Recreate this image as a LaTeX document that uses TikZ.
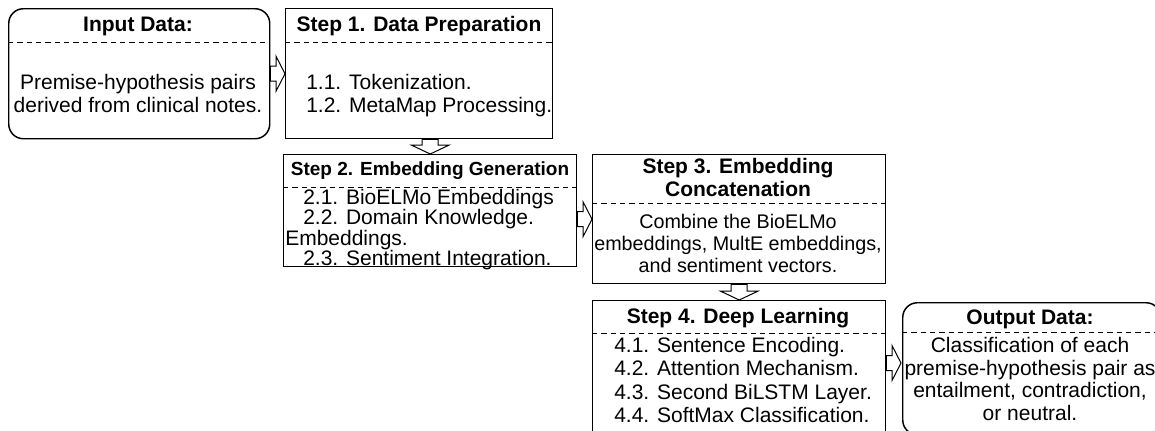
\documentclass[tikz,border=0pt]{standalone}
\usepackage{fontspec}
\setmainfont{Liberation Sans}
\usetikzlibrary{calc}

\tikzset{
  box/.style={draw, line width=1.1pt, anchor=north west, inner sep=0pt},
  roundbox/.style={box, rounded corners=11pt},
  head/.style={font=\fontsize{15.75}{17.25}\selectfont\bfseries, inner sep=0pt, align=center},
  body/.style={font=\fontsize{15.75}{17.25}\selectfont, inner sep=0pt},
  sep/.style={line width=0.75pt, dash pattern=on 4pt off 3pt},
  fatright/.style={draw, line width=0.75pt, fill=white, to path={
    ($(\tikztostart)+(0,-7.5)$) -- ($(\tikztotarget)+(-9,-7.5)$) -- ($(\tikztotarget)+(-9,-17.5)$)
    -- (\tikztotarget) -- ($(\tikztotarget)+(-9,17.5)$) -- ($(\tikztotarget)+(-9,7.5)$)
    -- ($(\tikztostart)+(0,7.5)$) -- cycle}},
  fatdown/.style={draw, line width=0.75pt, fill=white, to path={
    ($(\tikztostart)+(8,0)$) -- ($(\tikztotarget)+(8,-9)$) -- ($(\tikztotarget)+(19,-9)$)
    -- (\tikztotarget) -- ($(\tikztotarget)+(-19,-9)$) -- ($(\tikztotarget)+(-8,-9)$)
    -- ($(\tikztostart)+(-8,0)$) -- cycle}},
}

\begin{document}
\begin{tikzpicture}[x=0.75pt,y=0.75pt,yscale=-1,xscale=1]
\useasboundingbox (0,0) rectangle (1155,430);
\clip (0,0) rectangle (1155,430);

        %Rounded Rect: input
        \node[roundbox, minimum width=195.75pt, minimum height=97.5pt] (in) at (8,8) {};
        \draw[sep] (8,42) -- (269,42);
        %Shape: Rectangle, step 1
        \node[box, minimum width=200.25pt, minimum height=97.5pt] (s1) at (285,8) {};
        \draw[sep] (285,42) -- (552,42);
        %Shape: Rectangle, step 2
        \node[box, minimum width=219.75pt, minimum height=84pt] (s2) at (283,154) {};
        \draw[sep] (283,187) -- (576,187);
        %Shape: Rectangle, step 3
        \node[box, minimum width=219.75pt, minimum height=96.75pt] (s3) at (592,154) {};
        \draw[sep] (592,203) -- (885,203);
        %Shape: Rectangle, step 4
        \node[box, minimum width=219.75pt, minimum height=101.25pt] (s4) at (592,300) {};
        \draw[sep] (592,333) -- (885,333);
        %Rounded Rect: output
        \node[roundbox, minimum width=193.5pt, minimum height=99pt] (out) at (902,302) {};
        \draw[sep] (902,332) -- (1160,332);

        %Block arrows
        \coordinate (outin) at (901,363);
        \draw[fatright] (in.east) to (s1.west);
        \draw[fatdown] (s2.north |- s1.south) to (s2.north);
        \draw[fatright] (s2.east |- s3.west) to (s3.west);
        \draw[fatdown] (s3.south) to (s4.north);
        \draw[fatright] (s4.east |- outin) to (outin);

        \node[head] (inhead) at (138,26) {Input Data:};
        \node[body, anchor=north, align=center] (inbody) at (138,74) {Premise-hypothesis pairs\\derived from clinical notes.};
        \node[head] (s1head) at (419,26) {Step 1. Data Preparation};
        \node[body, anchor=north west, align=left] (s1body) at (306,74) {1.1. Tokenization.\\1.2. MetaMap Processing.};
        \node[head, font=\fontsize{14.25}{16}\selectfont\bfseries] (s2head) at (430,171) {Step 2. Embedding Generation};
        \node[body, anchor=north west, align=left, font=\fontsize{15.75}{15.25}\selectfont] (s2body) at (285,189) {\hspace*{13.5pt}2.1. BioELMo Embeddings\\\hspace*{13.5pt}2.2. Domain Knowledge.\\Embeddings.\\\hspace*{13.5pt}2.3. Sentiment Integration.};
        \node[head, anchor=north] (s3head) at (738,158) {Step 3. Embedding\\Concatenation};
        \node[body, anchor=north, align=center, font=\fontsize{14.8}{16.5}\selectfont] (s3body) at (738,214) {Combine the BioELMo\\embeddings, MultE embeddings,\\and sentiment vectors.};
        \node[head] (s4head) at (738,318) {Step 4. Deep Learning};
        \node[body, anchor=north west, align=left, font=\fontsize{15.75}{17.5}\selectfont] (s4body) at (614,337) {4.1. Sentence Encoding.\\4.2. Attention Mechanism.\\4.3. Second BiLSTM Layer.\\4.4. SoftMax Classification.};
        \node[head] (outhead) at (1030,319) {Output Data:};
        \node[body, anchor=north, align=center, font=\fontsize{15.75}{17}\selectfont] (outbody) at (1030,337) {Classification of each\\premise-hypothesis pair as\\entailment, contradiction,\\or neutral.};
\end{tikzpicture}
\end{document}
